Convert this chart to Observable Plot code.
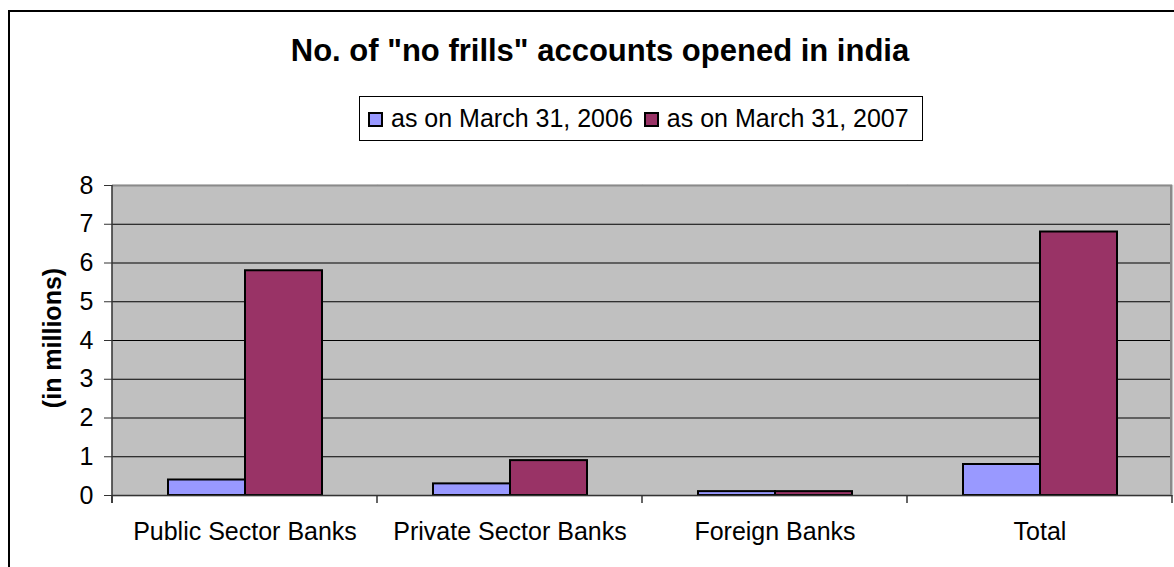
<!DOCTYPE html>
<html>
<head>
<meta charset="utf-8">
<script src="https://cdn.jsdelivr.net/npm/d3@7"></script>
<script src="https://cdn.jsdelivr.net/npm/@observablehq/plot@0.6"></script>
<style>
  html, body { margin: 0; padding: 0; background: #fff; }
  #wrap { position: relative; width: 1174px; height: 567px; overflow: hidden; font-family: "Liberation Sans", Arial, sans-serif; }
  #border { position: absolute; left: 8px; top: 10px; width: 1300px; height: 700px; border: 2px solid #000; box-sizing: border-box; }
  #chart { position: absolute; left: 0; top: 0; }
  #title { position: absolute; left: 0; width: 1200px; top: 33px; text-align: center; font-weight: bold; font-size: 31px; line-height: 36px; color: #000; }
  #legend { position: absolute; left: 359px; top: 96px; width: 564px; height: 45px; border: 1px solid #000; box-sizing: border-box; background: #fff; display: flex; align-items: center; padding-left: 8px; font-size: 25px; color: #000; }
  .item { display: flex; align-items: center; margin-right: 11px; white-space: nowrap; }
  .sw { width: 15px; height: 15px; border: 2px solid #000; box-sizing: border-box; margin-right: 8px; margin-top: 2px; }
  #ylabel { position: absolute; left: 52px; top: 338px; transform: translate(-50%, -50%) rotate(-90deg); font-weight: bold; font-size: 25px; white-space: nowrap; color: #000; }
</style>
</head>
<body>
<div id="wrap">
  <div id="border"></div>
  <div id="chart"></div>
  <div id="title"></div>
  <div id="legend"></div>
  <div id="ylabel"></div>
</div>
<script>
const titleText = 'No. of "no frills" accounts opened in india';
const yLabel = "(in millions)";
const categories = ["Public Sector Banks", "Private Sector Banks", "Foreign Banks", "Total"];
const series = ["as on March 31, 2006", "as on March 31, 2007"];
const values2006 = [0.4, 0.3, 0.1, 0.8];
const values2007 = [5.8, 0.9, 0.1, 6.8];
const yTicks = [0, 1, 2, 3, 4, 5, 6, 7, 8];
const seriesColors = ["#9999FF", "#993366"];

const data = [];
categories.forEach((c, i) => {
  data.push({category: c, series: series[0], value: values2006[i]});
  data.push({category: c, series: series[1], value: values2007[i]});
});

const W = 1174, H = 567;
const font = "Liberation Sans, Arial, sans-serif";

const plot = Plot.plot({
  width: W,
  height: H,
  marginLeft: 112,
  marginRight: 2,
  marginTop: 185,
  marginBottom: 72,
  style: {fontFamily: font, fontSize: "25px", color: "#000", background: "transparent"},
  fx: {domain: categories, padding: 0, label: null, axis: null},
  x: {domain: series, paddingInner: 0, paddingOuter: 0.72, axis: null},
  y: {domain: [0, 8], ticks: yTicks, axis: null},
  color: {domain: series, range: seriesColors},
  marks: [
    Plot.frame({fill: "#C0C0C0", stroke: "#C0C0C0", strokeWidth: 1.5}),
    Plot.ruleY(yTicks.filter(d => d > 0 && d < 8), {stroke: "#000", strokeWidth: 1.2}),
    Plot.ruleY([8], {stroke: "#8a8a8a", strokeWidth: 2}),
    Plot.barY(data, {fx: "category", x: "series", y: "value", fill: "series", stroke: "#000", strokeWidth: 2, inset: 0}),
    Plot.ruleY([0], {stroke: "#333", strokeWidth: 1.5}),
    Plot.axisY({ticks: yTicks, tickSize: 8, tickPadding: 11, fontSize: 25, label: null, stroke: "#333"}),
    Plot.axisFx({anchor: "bottom", tickSize: 0, tickPadding: 27, fontSize: 25, label: null})
  ]
});
document.getElementById("chart").appendChild(plot);

// boundary ticks, left axis line and right plot edge, from the fx and y scales
const fx = plot.scale("fx");
const y = plot.scale("y");
const svg = d3.select(plot);
const y0 = y.apply(0), yTop = y.apply(8);
const bounds = categories.map(c => fx.apply(c));
bounds.push(fx.apply(categories[categories.length - 1]) + fx.bandwidth);
const g = svg.append("g");
g.selectAll("line.bt").data(bounds).join("line")
  .attr("x1", d => d).attr("x2", d => d)
  .attr("y1", y0).attr("y2", y0 + 8)
  .attr("stroke", "#333").attr("stroke-width", 1.5);
g.append("line")
  .attr("x1", bounds[0]).attr("x2", bounds[0])
  .attr("y1", yTop).attr("y2", y0 + 8)
  .attr("stroke", "#333").attr("stroke-width", 1.5);
g.append("line")
  .attr("x1", bounds[bounds.length - 1] - 1).attr("x2", bounds[bounds.length - 1] - 1)
  .attr("y1", yTop).attr("y2", y0)
  .attr("stroke", "#8a8a8a").attr("stroke-width", 2);

document.getElementById("title").textContent = titleText;
document.getElementById("ylabel").textContent = yLabel;
const legend = document.getElementById("legend");
series.forEach((s, i) => {
  const item = document.createElement("div");
  item.className = "item";
  const sw = document.createElement("div");
  sw.className = "sw";
  sw.style.background = seriesColors[i];
  const t = document.createElement("span");
  t.textContent = s;
  item.appendChild(sw);
  item.appendChild(t);
  legend.appendChild(item);
});
</script>
</body>
</html>
